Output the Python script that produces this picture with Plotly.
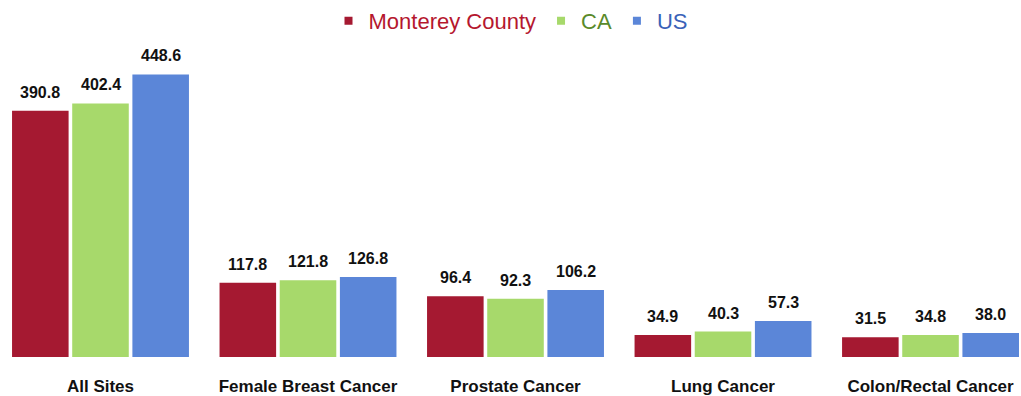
import plotly.graph_objects as go

# Cancer incidence rates per 100,000
categories = ["All Sites", "Female Breast Cancer", "Prostate Cancer", "Lung Cancer", "Colon/Rectal Cancer"]
monterey = [390.8, 117.8, 96.4, 34.9, 31.5]
ca = [402.4, 121.8, 92.3, 40.3, 34.8]
us = [448.6, 126.8, 106.2, 57.3, 38.0]

series_names = ["Monterey County", "CA", "US"]
bar_colors = ["#a51931", "#a7d96b", "#5b86d8"]
text_colors = ["#b5172e", "#5a8a2a", "#3a62b8"]

BARGAP = 0.13
BARGROUPGAP = 0.06
LABEL_FONT = "Liberation Sans Narrow, Arial Narrow, Liberation Sans, Arial, sans-serif"

fig = go.Figure()
all_series = [monterey, ca, us]
for name, vals, col in zip(series_names, all_series, bar_colors):
    fig.add_trace(go.Bar(
        x=categories, y=vals, name=name, marker_color=col,
        marker_line_width=0, showlegend=False, hoverinfo="x+y+name",
    ))

# Legend entries with small square markers and coloured text
for name, bcol, tcol in zip(series_names, bar_colors, text_colors):
    fig.add_trace(go.Scatter(
        x=[None], y=[None], mode="markers",
        marker=dict(symbol="square", size=8, color=bcol),
        name=f"<span style='color:{tcol}'>{name}</span>",
        showlegend=True,
    ))

# Value labels above each bar
group_w = 1 - BARGAP
for k, vals in enumerate(all_series):
    for i, v in enumerate(vals):
        fig.add_annotation(
            x=i + (k - 1) * group_w / 3, y=v, xref="x", yref="y",
            text=f"<b>{v:.1f}</b>", showarrow=False, yanchor="bottom",
            yshift=8, font=dict(family=LABEL_FONT, size=16, color="#111111"),
        )

fig.update_layout(
    width=1021, height=396,
    margin=dict(l=0, r=0, t=40, b=39),
    paper_bgcolor="white", plot_bgcolor="white",
    barmode="group", bargap=BARGAP, bargroupgap=BARGROUPGAP,
    legend=dict(
        orientation="h", x=0.5, xanchor="center", y=1.0, yanchor="top",
        yref="container", font=dict(family="Liberation Sans, Arial, sans-serif", size=22),
        itemwidth=30, tracegroupgap=0, bgcolor="rgba(0,0,0,0)",
    ),
    xaxis=dict(
        type="category", range=[-0.4843, 4.436],
        showline=False, showgrid=False, zeroline=False,
        ticks="outside", ticklen=0, ticklabelstandoff=14,
        tickfont=dict(family=LABEL_FONT, size=17, color="#111111"),
        tickprefix="<b>", ticksuffix="</b>",
    ),
    yaxis=dict(range=[0, 500], visible=False),
    showlegend=True,
)

fig.write_html("out.html")
